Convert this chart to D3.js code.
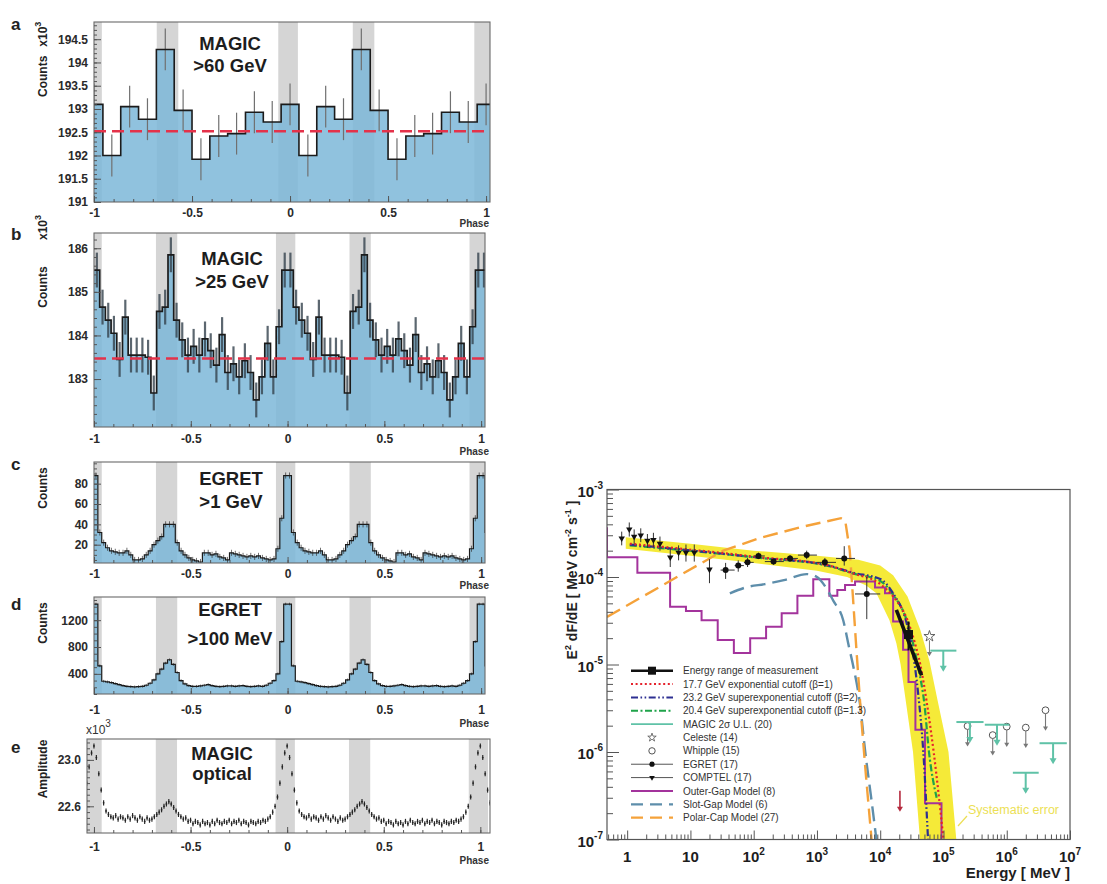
<!DOCTYPE html>
<html>
<head>
<meta charset="utf-8">
<script src="https://cdn.jsdelivr.net/npm/d3@7/dist/d3.min.js"></script>
<style>
  body { margin: 0; background: #fff; }
  svg { display: block; }
</style>
</head>
<body>
<svg id="fig" width="1107" height="884"></svg>
<script>
// ---------------- pulse profiles: one period each, starting at phase 0 ----------------
const gapPhases = [[-0.06, 0.04], [0.32, 0.43]];          // shaded P1 / P2 windows

const magic60 = [193.1, 192.0, 193.05, 192.78, 194.28, 192.97, 191.92, 192.42, 192.47, 192.93, 192.72];
const magic60Err = 0.45;
const magic60Level = 192.52;

const magic25 = [185.5, 184.65, 184.35, 184.05, 183.45, 184.42, 183.55, 183.55, 183.55, 183.5,
  182.68, 184.55, 184.65, 185.85, 184.35, 183.9, 183.55, 183.75, 183.55, 183.92,
  183.65, 183.32, 184.02, 183.15, 183.35, 183.05, 183.42, 183.15, 182.52, 183.05,
  183.82, 183.05, 184.2, 185.5];
const magic25Err = 0.4;
const magic25Level = 183.47;

const egret1GeV = [88, 32, 22, 17, 14, 13, 12, 12, 14, 10, 5, 5, 6, 10, 14,
  20, 24, 28, 40, 40, 40, 22, 14, 10, 7, 5, 4, 3, 12, 12, 10, 11, 8, 7, 5,
  12, 11, 10, 9, 8, 9, 8, 9, 7, 6, 5, 6, 16, 46, 88];
const egret1GeVErr = 3;

const egret100MeV = [1440, 520, 290, 280, 270, 255, 240, 225, 215, 210, 205, 210, 215, 230, 260,
  310, 400, 470, 560, 610, 540, 420, 300, 250, 225, 215, 215, 220, 230, 240,
  225, 215, 210, 215, 220, 220, 215, 220, 225, 215, 210, 215, 220, 215, 230,
  260, 300, 400, 880, 1440];
const egret100MeVErr = 20;

const optical = [23.12, 23.02, 22.88, 22.74, 22.63, 22.56, 22.53, 22.51, 22.50, 22.52,
  22.49, 22.51, 22.50, 22.48, 22.51, 22.49, 22.52, 22.50, 22.48, 22.51,
  22.49, 22.47, 22.50, 22.48, 22.49, 22.51, 22.53, 22.55, 22.57, 22.60,
  22.62, 22.64, 22.62, 22.59, 22.56, 22.53, 22.51, 22.49, 22.50, 22.47,
  22.48, 22.45, 22.47, 22.46, 22.44, 22.47, 22.45, 22.46, 22.44, 22.47,
  22.45, 22.48, 22.46, 22.45, 22.47, 22.46, 22.48, 22.45, 22.47, 22.46,
  22.48, 22.45, 22.47, 22.46, 22.44, 22.47, 22.46, 22.45, 22.47, 22.46,
  22.48, 22.47, 22.49, 22.51, 22.55, 22.60, 22.68, 22.80, 22.94, 23.06];
const opticalErr = 0.022;

const phaseTicks = [-1, -0.5, 0, 0.5, 1];

// ---------------- spectrum ----------------
const sedXTicks = [1, 10, 1e2, 1e3, 1e4, 1e5, 1e6, 1e7];
const sedXBase = ['1', '10', '10', '10', '10', '10', '10', '10'];
const sedXSup = ['', '', '2', '3', '4', '5', '6', '7'];
const sedYTicks = [1e-7, 1e-6, 1e-5, 1e-4, 1e-3];
const sedYSup = ['-7', '-6', '-5', '-4', '-3'];

const sysUpper = [[0.95, 2.85e-4], [10, 2.4e-4], [100, 2.0e-4], [1000, 1.75e-4], [4500, 1.57e-4],
  [1e4, 1.35e-4], [1.6e4, 1.05e-4], [2.7e4, 6e-5], [4.3e4, 2.5e-5], [6e4, 1.1e-5],
  [8e4, 4e-6], [1.2e5, 1e-6], [1.7e5, 6e-8]];
const sysLower = [[0.95, 2.1e-4], [10, 1.75e-4], [100, 1.45e-4], [1000, 1.18e-4], [3000, 1.0e-4],
  [6000, 8e-5], [8700, 6.5e-5], [1.4e4, 3.2e-5], [1.8e4, 1.75e-5], [2.1e4, 1e-5],
  [3.3e4, 1e-6], [4.5e4, 6e-8]];

const fitExp = [[1.1, 2.4e-4], [11, 2.04e-4], [126, 1.68e-4], [1430, 1.37e-4], [3700, 1.1e-4],
  [1e4, 8.3e-5], [1.6e4, 6e-5], [2.7e4, 3.2e-5], [3.5e4, 1.8e-5], [4.3e4, 1e-5],
  [5.5e4, 3.5e-6], [7e4, 1e-6], [8.5e4, 3e-7], [1.0e5, 1e-7]];
const fitSuper2 = [[1.1, 2.35e-4], [11, 2.0e-4], [126, 1.66e-4], [1430, 1.37e-4], [3700, 1.12e-4],
  [1e4, 9.5e-5], [1.6e4, 6.5e-5], [2.7e4, 2.7e-5], [3.5e4, 1e-5], [4e4, 4.5e-6],
  [4.8e4, 1e-6], [5.7e4, 1e-7]];
const fitSuper13 = [[1.1, 2.3e-4], [11, 1.98e-4], [126, 1.65e-4], [1430, 1.35e-4], [3700, 1.1e-4],
  [1e4, 9e-5], [1.6e4, 6.3e-5], [2.7e4, 3e-5], [3.9e4, 1e-5], [5e4, 3.5e-6],
  [5.9e4, 1e-6], [7.8e4, 3e-7]];

const outerGapEdges = [0.3, 0.48, 1.45, 4.77, 8.5, 15, 27, 48.6, 88, 157, 277, 491, 874, 1570,
  2100, 2780, 4000, 8280, 11900, 16000, 23000, 28000, 36000, 51000, 93000, 150000];
const outerGapValues = [3.6e-4, 1.68e-4, 1.12e-4, 4.57e-5, 4.08e-5, 3.2e-5, 1.9e-5, 1.35e-5, 2e-5,
  2.7e-5, 3.85e-5, 6.1e-5, 9.4e-5, 6.1e-5, 7.1e-5, 8.1e-5, 8.9e-5, 7.6e-5, 6.5e-5,
  3.1e-5, 1.47e-5, 6.3e-6, 1.8e-6, 2.6e-7, 5e-8];
const slotGap = [[42, 6.5e-5], [80, 7.7e-5], [150, 8.3e-5], [300, 9.2e-5], [690, 1.08e-4],
  [1000, 1.0e-4], [1430, 7.3e-5], [1800, 5.4e-5], [2600, 3.2e-5], [3200, 1.6e-5],
  [3700, 1e-5], [4800, 3.5e-6], [5800, 1e-6], [7200, 3e-7], [8700, 1e-7]];
const polarCap = [[0.48, 3.5e-5], [33, 2.0e-4], [126, 2.8e-4], [590, 3.75e-4], [2400, 4.7e-4],
  [2800, 4.4e-4], [3300, 2e-4], [3700, 6e-5], [4200, 1.5e-5], [5000, 2.5e-6],
  [6000, 5e-7], [7300, 1e-7]];

const comptelE = [0.82, 1.08, 1.29, 1.64, 2.09, 2.6, 3.3, 4.8, 6.5, 8.5, 11.5, 20];
const comptelF = [2.77e-4, 3.5e-4, 2.9e-4, 3.0e-4, 2.6e-4, 2.65e-4, 2.4e-4, 1.68e-4, 1.9e-4, 1.9e-4, 1.9e-4, 1.22e-4];
const comptelLo = [2.3e-4, 2.9e-4, 2.4e-4, 2.5e-4, 2.15e-4, 2.2e-4, 2.0e-4, 1.3e-4, 1.55e-4, 1.5e-4, 1.5e-4, 8.5e-5];
const comptelHi = [3.3e-4, 4.2e-4, 3.5e-4, 3.6e-4, 3.1e-4, 3.2e-4, 2.9e-4, 2.1e-4, 2.3e-4, 2.35e-4, 2.35e-4, 1.6e-4];

const egretE = [36, 57, 80, 119, 206, 376, 688, 1335, 2700, 6130];
const egretElo = [30, 50, 70, 100, 150, 300, 500, 1000, 2000, 4000];
const egretEhi = [50, 70, 100, 150, 300, 500, 1000, 2000, 4000, 10000];
const egretF = [1.2e-4, 1.35e-4, 1.47e-4, 1.74e-4, 1.5e-4, 1.63e-4, 1.78e-4, 1.47e-4, 1.63e-4, 6.4e-5];
const egretLo = [0.95e-4, 1.15e-4, 1.3e-4, 1.6e-4, 1.38e-4, 1.5e-4, 1.6e-4, 1.3e-4, 1.35e-4, 3.3e-5];
const egretHi = [1.45e-4, 1.55e-4, 1.65e-4, 1.9e-4, 1.62e-4, 1.78e-4, 2.0e-4, 1.65e-4, 2.25e-4, 1.0e-4];

const magicRange = [[1.8e4, 4.2e-5], [4.5e4, 7.5e-6]];
const magicPoint = [2.8e4, 2.2e-5, 1.45e-5, 3.1e-5];   // E, F, F low, F high
const celeste = [6e4, 2.1e-5];
const whippleE = [2.4e5, 6e5, 1e6, 2e6, 4.1e6];
const whippleF = [1.98e-6, 1.56e-6, 1.95e-6, 1.9e-6, 3.0e-6];
const magicULlo = [6.2e4, 1.6e5, 4.5e5, 1.25e6, 3.3e6];
const magicULhi = [1.6e5, 4.3e5, 1.1e6, 3.2e6, 8.9e6];
const magicULF = [1.44e-5, 2.2e-6, 2.05e-6, 5.8e-7, 1.26e-6];
const thresholdArrow = [2.05e4, 3.6e-7];

const legendLabels = ['Energy range of measurement', '17.7 GeV exponential cutoff (β=1)',
  '23.2 GeV superexponential cutoff (β=2)', '20.4 GeV superexponential cutoff (β=1.3)',
  'MAGIC 2σ U.L. (20)', 'Celeste (14)', 'Whipple (15)', 'EGRET  (17)', 'COMPTEL  (17)',
  'Outer-Gap Model (8)', 'Slot-Gap Model (6)', 'Polar-Cap Model (27)'];

// ---------------- drawing ----------------
const FONT = '"Liberation Sans", Arial, Helvetica, sans-serif';
const svg = d3.select('#fig').attr('font-family', FONT);

function styleAxis(sel, size) {
  sel.select('.domain').remove();
  sel.selectAll('line').attr('stroke', '#555');
  sel.attr('font-family', FONT).attr('font-size', size).attr('font-weight', 'bold');
  sel.selectAll('text').attr('fill', '#2a2a2a');
}

function rotLabel(x, y, anchor, parts, size) {
  const t = svg.append('text').attr('transform', `translate(${x},${y}) rotate(-90)`)
    .attr('text-anchor', anchor).attr('font-size', size).attr('font-weight', 'bold').attr('fill', '#222');
  parts.forEach(([txt, dy, fs, dx]) => t.append('tspan')
    .attr('dy', dy || 0).attr('dx', dx || 0).attr('font-size', fs || null).text(txt));
}

const panels = [
  { id: 'a', box: [94, 22, 490, 202], xdom: [-1, 1.02], ydom: [191, 194.87], values: magic60,
    start: -0.5 / magic60.length, err: magic60Err, level: magic60Level, errStyle: ['#707070', 1.2, 1],
    yMajor: [191, 191.5, 192, 192.5, 193, 193.5, 194, 194.5], yMinor: 0.1, yFmt: d => String(d),
    line: 1.6, xPad: 6, phaseY: 227, letterY: 30, title: ['MAGIC', '>60 GeV'], titleX: 230, titleY: [50, 72] },
  { id: 'b', box: [94, 233, 485, 427], xdom: [-1, 1.02], ydom: [181.9, 186.35], values: magic25,
    start: 0, err: magic25Err, level: magic25Level, errStyle: ['#34424d', 2.2, 0.8],
    yMajor: [183, 184, 185, 186], yMinor: 0.2, yFmt: d => String(d),
    line: 1.7, xPad: 7, phaseY: 455, letterY: 240, title: ['MAGIC', '>25 GeV'], titleX: 232, titleY: [265, 288] },
  { id: 'c', box: [94, 462, 485, 563], xdom: [-1, 1.02], ydom: [2, 101.3], values: egret1GeV,
    start: 0, err: egret1GeVErr, errStyle: ['#333', 0.8, 0.9],
    yMajor: [20, 40, 60, 80], yMinor: 5, yFmt: d => String(d),
    line: 1.2, xPad: 6, phaseY: 589, letterY: 470, title: ['EGRET', '>1 GeV'], titleX: 231, titleY: [485, 508] },
  { id: 'd', box: [94, 597, 485, 694], xdom: [-1, 1.02], ydom: [100, 1545], values: egret100MeV,
    start: 0, err: egret100MeVErr, errStyle: ['#333', 0.8, 0.9],
    yMajor: [400, 800, 1200], yMinor: 100, yFmt: d => String(d),
    line: 1.2, xPad: 11, phaseY: 727, letterY: 610, title: ['EGRET', '>100 MeV'], titleX: 230, titleY: [616, 645] },
  { id: 'e', box: [87, 739, 490, 833], xdom: [-1.036, 1.05], ydom: [22.37, 23.18], points: optical,
    err: opticalErr, yMajor: [22.6, 23.0], yMinor: 0.05, yFmt: d => d.toFixed(1),
    xPad: 9, phaseY: 864, letterY: 753, title: ['MAGIC', 'optical'], titleX: 222, titleY: [760, 780] },
];

panels.forEach(p => {
  const [x0, y0, x1, y1] = p.box;
  const x = d3.scaleLinear().domain(p.xdom).range([x0, x1]);
  const y = d3.scaleLinear().domain(p.ydom).range([y1, y0]);
  const g = svg.append('g');
  g.append('clipPath').attr('id', 'clip-' + p.id).append('rect')
    .attr('x', x0).attr('y', y0).attr('width', x1 - x0).attr('height', y1 - y0);
  const plot = g.append('g').attr('clip-path', `url(#clip-${p.id})`);

  const windows = [];
  for (const per of [-2, -1, 0, 1]) for (const [a, b] of gapPhases) windows.push([per + a, per + b]);
  plot.selectAll('rect.win').data(windows).join('rect').attr('class', 'win')
    .attr('x', d => x(d[0])).attr('width', d => x(d[1]) - x(d[0]))
    .attr('y', y0).attr('height', y1 - y0).attr('fill', '#d5d5d5');

  if (p.values) {
    const w = 1 / p.values.length;
    const bins = [];
    for (const per of [-2, -1, 0, 1]) p.values.forEach((v, k) => {
      const lo = per + p.start + k * w;
      bins.push({ lo, hi: lo + w, v });
    });
    const pts = bins.flatMap(b => [[b.lo, b.v], [b.hi, b.v]]);
    plot.append('path').datum(pts)
      .attr('d', d3.area().x(d => x(d[0])).y0(y1).y1(d => y(d[1])))
      .attr('fill', '#7cb7d8').attr('fill-opacity', 0.85);
    plot.selectAll('line.err').data(bins).join('line').attr('class', 'err')
      .attr('x1', d => x((d.lo + d.hi) / 2)).attr('x2', d => x((d.lo + d.hi) / 2))
      .attr('y1', d => y(d.v - p.err)).attr('y2', d => y(d.v + p.err))
      .attr('stroke', p.errStyle[0]).attr('stroke-width', p.errStyle[1]).attr('opacity', p.errStyle[2]);
    plot.append('path').datum(pts)
      .attr('d', d3.line().x(d => x(d[0])).y(d => y(d[1])))
      .attr('fill', 'none').attr('stroke', '#1b1b1b').attr('stroke-width', p.line);
    if (p.level != null) {
      plot.append('line').attr('x1', x0).attr('x2', x1).attr('y1', y(p.level)).attr('y2', y(p.level))
        .attr('stroke', '#e4324a').attr('stroke-width', 2.6).attr('stroke-dasharray', '12,6');
    }
  } else {
    const n = p.points.length;
    const pts = [];
    for (const per of [-2, -1, 0, 1]) p.points.forEach((v, k) => pts.push([per + k / n, v]));
    plot.selectAll('line.err').data(pts).join('line').attr('class', 'err')
      .attr('x1', d => x(d[0])).attr('x2', d => x(d[0]))
      .attr('y1', d => y(d[1] - p.err)).attr('y2', d => y(d[1] + p.err))
      .attr('stroke', '#2a2a2a').attr('stroke-width', 1.2);
    plot.selectAll('circle.pt').data(pts).join('circle').attr('class', 'pt')
      .attr('cx', d => x(d[0])).attr('cy', d => y(d[1])).attr('r', 0.9).attr('fill', '#222');
  }

  g.append('rect').attr('x', x0).attr('y', y0).attr('width', x1 - x0).attr('height', y1 - y0)
    .attr('fill', 'none').attr('stroke', '#6a6a6a').attr('stroke-width', 1.1);

  // axes with inward ticks
  const xMinor = d3.range(-10, 11).map(i => i / 10).filter(v => v >= p.xdom[0] && v <= p.xdom[1]);
  const yMinor = d3.range(Math.ceil(p.ydom[0] / p.yMinor), Math.floor(p.ydom[1] / p.yMinor) + 1)
    .map(i => i * p.yMinor);
  g.append('g').attr('transform', `translate(0,${y1})`)
    .call(d3.axisBottom(x).tickValues(xMinor).tickSizeInner(-3).tickSizeOuter(0).tickFormat(() => ''))
    .call(s => styleAxis(s, 12));
  g.append('g').attr('transform', `translate(0,${y1})`)
    .call(d3.axisBottom(x).tickValues(phaseTicks).tickSizeInner(-6).tickSizeOuter(0).tickPadding(p.xPad)
      .tickFormat(d => String(d)))
    .call(s => styleAxis(s, 12));
  g.append('g').attr('transform', `translate(${x0},0)`)
    .call(d3.axisLeft(y).tickValues(yMinor).tickSizeInner(-3).tickSizeOuter(0).tickFormat(() => ''))
    .call(s => styleAxis(s, 12));
  g.append('g').attr('transform', `translate(${x0},0)`)
    .call(d3.axisLeft(y).tickValues(p.yMajor).tickSizeInner(-7).tickSizeOuter(0).tickPadding(6).tickFormat(p.yFmt))
    .call(s => styleAxis(s, 12));

  g.append('text').attr('x', 489).attr('y', p.phaseY).attr('text-anchor', 'end')
    .attr('font-size', 10).attr('font-weight', 'bold').attr('fill', '#333').text('Phase');
  g.append('text').attr('x', 11).attr('y', p.letterY)
    .attr('font-size', 17).attr('font-weight', 'bold').attr('fill', '#222').text(p.id);
  p.title.forEach((t, i) => g.append('text').attr('x', p.titleX).attr('y', p.titleY[i])
    .attr('text-anchor', 'middle').attr('font-size', 18.5).attr('font-weight', 'bold').attr('fill', '#1d1d1d').text(t));
});

rotLabel(47, 97, 'start', [['Counts'], ['x10', 0, null, 9], ['3', -6, 9]], 12);
rotLabel(47, 287, 'middle', [['Counts']], 12);
rotLabel(47, 240, 'start', [['x10'], ['3', -6, 9]], 12);
rotLabel(47, 488, 'middle', [['Counts']], 12);
rotLabel(47, 623, 'middle', [['Counts']], 12);
rotLabel(47, 769, 'middle', [['Amplitude']], 12);
{
  const t = svg.append('text').attr('x', 86).attr('y', 734).attr('font-size', 12).attr('fill', '#333');
  t.append('tspan').text('x10');
  t.append('tspan').attr('dy', -7).attr('font-size', 10).text('3');
}

// ---------------- spectral energy distribution ----------------
const S = [607, 489.5, 1070, 839.5];
const xE = d3.scaleLog().domain([0.48, 1e7]).range([S[0], S[2]]);
const yF = d3.scaleLog().domain([1e-7, 1e-3]).range([S[3], S[1]]);
const sed = svg.append('g');
sed.append('clipPath').attr('id', 'clip-sed').append('rect')
  .attr('x', S[0]).attr('y', S[1]).attr('width', S[2] - S[0]).attr('height', S[3] - S[1]);
const sp = sed.append('g').attr('clip-path', 'url(#clip-sed)');
const ll = d3.line().x(d => xE(d[0])).y(d => yF(d[1]));
const smooth = d3.line().curve(d3.curveMonotoneX).x(d => xE(d[0])).y(d => yF(d[1]));

sp.append('path').attr('d', ll(sysUpper.concat(sysLower.slice().reverse())) + 'Z')
  .attr('fill', '#f5ea38');

const C = { exp: '#e5222c', sup2: '#2d2f92', sup13: '#1fa34a', ul: '#5fc2a7',
  outer: '#a3339c', slot: '#5e8eab', polar: '#f5a23a', dark: '#111' };
const dashes = { exp: '2,2.6', sup2: '7,2.5,1.6,2.5,1.6,2.5', sup13: '7,2.5,2,2.5', slot: '15,7', polar: '15,7' };

const ogPts = outerGapValues.flatMap((v, i) => [[outerGapEdges[i], v], [outerGapEdges[i + 1], v]]);
sp.append('path').attr('d', ll(ogPts)).attr('fill', 'none').attr('stroke', C.outer).attr('stroke-width', 2);
sp.append('path').attr('d', smooth(slotGap)).attr('fill', 'none')
  .attr('stroke', C.slot).attr('stroke-width', 2.4).attr('stroke-dasharray', dashes.slot);
sp.append('path').attr('d', ll(polarCap)).attr('fill', 'none')
  .attr('stroke', C.polar).attr('stroke-width', 2.4).attr('stroke-dasharray', dashes.polar);
[[fitSuper13, C.sup13, dashes.sup13], [fitSuper2, C.sup2, dashes.sup2], [fitExp, C.exp, dashes.exp]]
  .forEach(([d, c, da]) => sp.append('path').attr('d', smooth(d))
    .attr('fill', 'none').attr('stroke', c).attr('stroke-width', 2.2).attr('stroke-dasharray', da));

// measurement
sp.append('path').attr('d', ll(magicRange)).attr('stroke', C.dark).attr('stroke-width', 3.6);
sp.append('line').attr('x1', xE(magicPoint[0])).attr('x2', xE(magicPoint[0]))
  .attr('y1', yF(magicPoint[2])).attr('y2', yF(magicPoint[3])).attr('stroke', C.dark).attr('stroke-width', 2);
sp.append('rect').attr('x', xE(magicPoint[0]) - 4.5).attr('y', yF(magicPoint[1]) - 4.5)
  .attr('width', 9).attr('height', 9).attr('fill', C.dark);

// COMPTEL
comptelE.forEach((e, i) => {
  sp.append('line').attr('x1', xE(e)).attr('x2', xE(e)).attr('y1', yF(comptelLo[i])).attr('y2', yF(comptelHi[i]))
    .attr('stroke', '#333').attr('stroke-width', 1);
});
sp.selectAll('path.comptel').data(comptelE).join('path').attr('class', 'comptel')
  .attr('transform', (e, i) => `translate(${xE(e)},${yF(comptelF[i])}) rotate(180)`)
  .attr('d', d3.symbol(d3.symbolTriangle, 18)).attr('fill', '#111');

// EGRET
egretE.forEach((e, i) => {
  sp.append('line').attr('x1', xE(egretElo[i])).attr('x2', xE(egretEhi[i]))
    .attr('y1', yF(egretF[i])).attr('y2', yF(egretF[i])).attr('stroke', '#333').attr('stroke-width', 1);
  sp.append('line').attr('x1', xE(e)).attr('x2', xE(e)).attr('y1', yF(egretLo[i])).attr('y2', yF(egretHi[i]))
    .attr('stroke', '#333').attr('stroke-width', 1);
});
sp.selectAll('circle.egret').data(egretE).join('circle').attr('class', 'egret')
  .attr('cx', e => xE(e)).attr('cy', (e, i) => yF(egretF[i])).attr('r', 3).attr('fill', '#111');

function arrowDown(g, px, py, len, color, head, w) {
  g.append('line').attr('x1', px).attr('x2', px).attr('y1', py).attr('y2', py + len - 2)
    .attr('stroke', color).attr('stroke-width', w);
  g.append('path').attr('d', `M${px - head},${py + len - head * 1.7}L${px + head},${py + len - head * 1.7}L${px},${py + len}Z`)
    .attr('fill', color);
}

// Celeste
sp.append('path').attr('transform', `translate(${xE(celeste[0])},${yF(celeste[1])})`)
  .attr('d', d3.symbol(d3.symbolStar, 38)).attr('fill', 'none').attr('stroke', '#555').attr('stroke-width', 0.9);
arrowDown(sp, xE(celeste[0]), yF(celeste[1]) + 4, 16, '#777', 2.5, 1);

// Whipple
whippleE.forEach((e, i) => {
  sp.append('circle').attr('cx', xE(e)).attr('cy', yF(whippleF[i])).attr('r', 3.4)
    .attr('fill', '#fff').attr('stroke', '#555').attr('stroke-width', 1);
  arrowDown(sp, xE(e), yF(whippleF[i]) + 3.4, 17, '#777', 2.5, 1.1);
});

// MAGIC upper limits
magicULF.forEach((f, i) => {
  sp.append('line').attr('x1', xE(magicULlo[i])).attr('x2', xE(magicULhi[i])).attr('y1', yF(f)).attr('y2', yF(f))
    .attr('stroke', C.ul).attr('stroke-width', 2);
  arrowDown(sp, Math.sqrt(xE(magicULlo[i]) * xE(magicULhi[i])), yF(f), 21, C.ul, 3.5, 2);
});

arrowDown(sp, xE(thresholdArrow[0]), yF(thresholdArrow[1]), 21, '#b52a3e', 3, 1.6);

// frame and axes
sed.append('rect').attr('x', S[0]).attr('y', S[1]).attr('width', S[2] - S[0]).attr('height', S[3] - S[1])
  .attr('fill', 'none').attr('stroke', '#555').attr('stroke-width', 1.2);

const xMinorSed = [];
for (let d = -1; d < 7; d++) for (let m = 2; m <= 9; m++) {
  const v = m * Math.pow(10, d);
  if (v > 0.48 && v < 1e7) xMinorSed.push(v);
}
const yMinorSed = [];
for (let d = -7; d < -3; d++) for (let m = 2; m <= 9; m++) yMinorSed.push(m * Math.pow(10, d));

sed.append('g').attr('transform', `translate(0,${S[3]})`)
  .call(d3.axisBottom(xE).tickValues(xMinorSed).tickSizeInner(-5).tickSizeOuter(0).tickFormat(() => ''))
  .call(s => styleAxis(s, 15));
sed.append('g').attr('transform', `translate(0,${S[3]})`)
  .call(d3.axisBottom(xE).tickValues(sedXTicks).tickSizeInner(-9).tickSizeOuter(0).tickFormat(() => ''))
  .call(s => styleAxis(s, 15));
sed.append('g').attr('transform', `translate(${S[0]},0)`)
  .call(d3.axisLeft(yF).tickValues(yMinorSed).tickSizeInner(-6).tickSizeOuter(0).tickFormat(() => ''))
  .call(s => styleAxis(s, 15));
sed.append('g').attr('transform', `translate(${S[0]},0)`)
  .call(d3.axisLeft(yF).tickValues(sedYTicks).tickSizeInner(-12).tickSizeOuter(0).tickFormat(() => ''))
  .call(s => styleAxis(s, 15));

sed.selectAll('text.xl').data(sedXTicks).join('text').attr('class', 'xl')
  .attr('x', d => xE(d)).attr('y', 862).attr('text-anchor', 'middle')
  .attr('font-size', 15).attr('font-weight', 'bold').attr('fill', '#1d1d1d')
  .each(function (d, i) {
    const t = d3.select(this);
    t.append('tspan').text(sedXBase[i]);
    if (sedXSup[i]) t.append('tspan').attr('dy', -7).attr('font-size', 10).text(sedXSup[i]);
  });
sed.selectAll('text.yl').data(sedYTicks).join('text').attr('class', 'yl')
  .attr('x', S[0] - 4).attr('y', d => yF(d) + 7).attr('text-anchor', 'end')
  .attr('font-size', 15).attr('font-weight', 'bold').attr('fill', '#1d1d1d')
  .each(function (d, i) {
    const t = d3.select(this);
    t.append('tspan').text('10');
    t.append('tspan').attr('dy', -8).attr('font-size', 10).text(sedYSup[i]);
  });

sed.append('text').attr('x', 1070).attr('y', 878).attr('text-anchor', 'end')
  .attr('font-size', 15).attr('font-weight', 'bold').attr('fill', '#1d1d1d').text('Energy [ MeV ]');
rotLabel(577, 580, 'middle', [['E'], ['2', -6, 9], [' dF/dE [ MeV cm', 6], ['-2', -6, 9], [' s', 6],
  ['-1', -6, 9], [' ]', 6]], 14);

// "Systematic error" note
sed.append('line').attr('x1', 967).attr('y1', 816).attr('x2', 958).attr('y2', 826)
  .attr('stroke', '#ecdf55').attr('stroke-width', 1.2);
sed.append('text').attr('x', 968).attr('y', 814).attr('font-size', 12.5).attr('fill', '#ecdf55')
  .text('Systematic error');

// legend
const lg = sed.append('g');
legendLabels.forEach((label, i) => {
  const yy = 670.7 + i * 13.36;
  const a = 631, b = 673, c = 652;
  const seg = (color, w, dash) => lg.append('line').attr('x1', a).attr('x2', b).attr('y1', yy).attr('y2', yy)
    .attr('stroke', color).attr('stroke-width', w).attr('stroke-dasharray', dash || null);
  if (i === 0) { seg(C.dark, 2.6); lg.append('rect').attr('x', c - 4).attr('y', yy - 4).attr('width', 8).attr('height', 8).attr('fill', C.dark); }
  if (i === 1) seg(C.exp, 2, dashes.exp);
  if (i === 2) seg(C.sup2, 2, dashes.sup2);
  if (i === 3) seg(C.sup13, 2, dashes.sup13);
  if (i === 4) seg(C.ul, 1.8);
  if (i === 5) lg.append('path').attr('transform', `translate(${c},${yy})`).attr('d', d3.symbol(d3.symbolStar, 22))
    .attr('fill', 'none').attr('stroke', '#555').attr('stroke-width', 0.8);
  if (i === 6) lg.append('circle').attr('cx', c).attr('cy', yy).attr('r', 3.2).attr('fill', '#fff').attr('stroke', '#555');
  if (i === 7) { seg('#555', 1); lg.append('circle').attr('cx', c).attr('cy', yy).attr('r', 2.6).attr('fill', '#111'); }
  if (i === 8) { seg('#555', 1); lg.append('path').attr('transform', `translate(${c},${yy}) rotate(180)`)
    .attr('d', d3.symbol(d3.symbolTriangle, 14)).attr('fill', '#111'); }
  if (i === 9) seg(C.outer, 2);
  if (i === 10) seg(C.slot, 2.2, '12,7');
  if (i === 11) seg(C.polar, 2.2, '12,7');
  lg.append('text').attr('x', 683).attr('y', yy + 3.6).attr('font-size', 10).attr('fill', '#333').text(label);
});
</script>
</body>
</html>
